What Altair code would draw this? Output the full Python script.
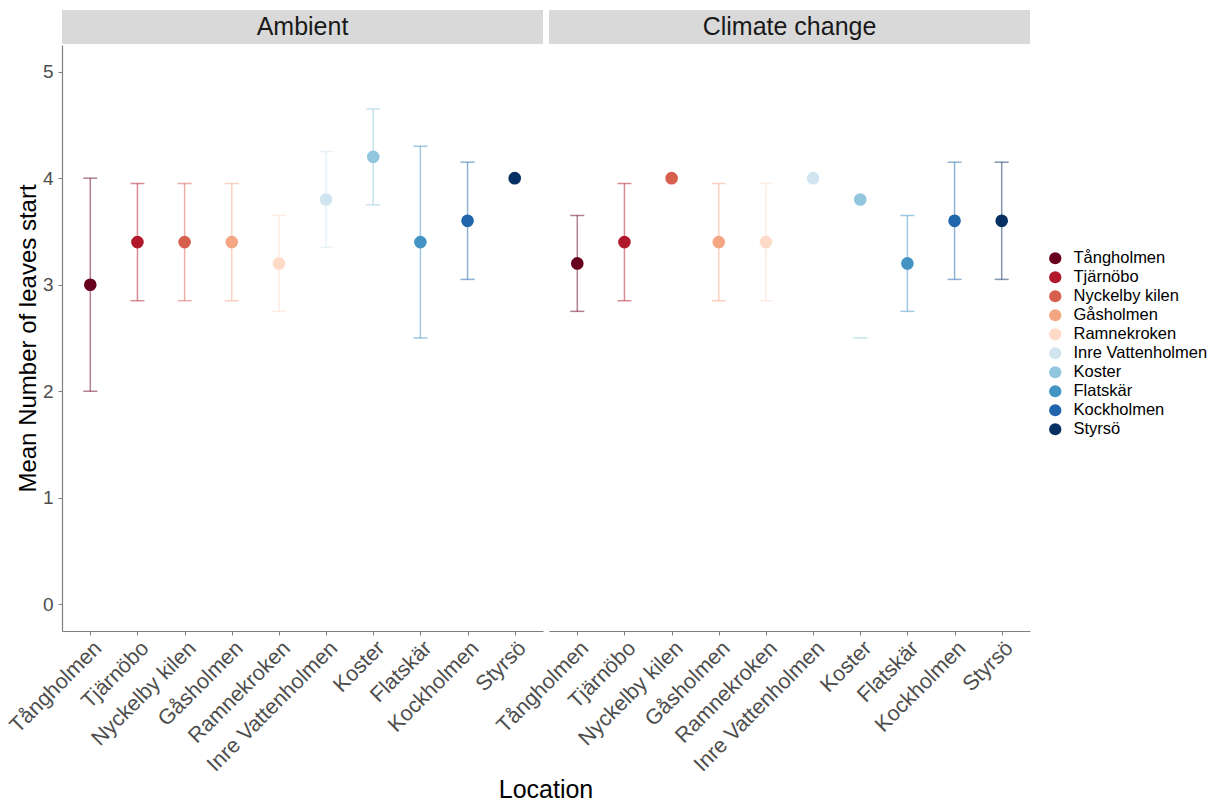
import altair as alt
import pandas as pd

FONT = "Liberation Sans"

locations = ["Tångholmen", "Tjärnöbo", "Nyckelby kilen", "Gåsholmen", "Ramnekroken",
             "Inre Vattenholmen", "Koster", "Flatskär", "Kockholmen", "Styrsö"]
palette = ["#67001F", "#B2182B", "#D6604D", "#F4A582", "#FDDBC7",
           "#D1E5F0", "#92C5DE", "#4393C3", "#2166AC", "#053061"]

# Ambient treatment: mean and error-bar limits per location
amb_mean = [3.0, 3.4, 3.4, 3.4, 3.2, 3.8, 4.2, 3.4, 3.6, 4.0]
amb_lower = [2.0, 2.85, 2.85, 2.85, 2.75, 3.35, 3.75, 2.5, 3.05, None]
amb_upper = [4.0, 3.95, 3.95, 3.95, 3.65, 4.25, 4.65, 4.3, 4.15, None]

# Climate change treatment
cc_mean = [3.2, 3.4, 4.0, 3.4, 3.4, 4.0, 3.8, 3.2, 3.6, 3.6]
cc_lower = [2.75, 2.85, None, 2.85, 2.85, None, 2.5, 2.75, 3.05, 3.05]
cc_upper = [3.65, 3.95, None, 3.95, 3.95, None, None, 3.65, 4.15, 4.15]

W, H = 481, 586
GAP = 6
STRIP_H = 34
AXIS_GREY = "#7F7F7F"


def frame(name, means, lowers, uppers):
    return pd.DataFrame({"Location": locations, "mean": means,
                         "lower": lowers, "upper": uppers, "Treatment": name})


y_scale = alt.Scale(domain=[-0.25, 5.25], nice=False, zero=False)
color = alt.Color("Location:N", sort=locations,
                  scale=alt.Scale(domain=locations, range=palette),
                  legend=alt.Legend(title=None, orient="none", legendX=985, legendY=205,
                                    symbolType="circle", symbolSize=150, symbolOpacity=1,
                                    labelFontSize=16.5, labelFont=FONT, labelColor="#000000",
                                    labelOffset=10, rowPadding=2, symbolStrokeWidth=0))
x_enc = alt.X("Location:N", sort=locations, title=None,
              scale=alt.Scale(type="point", padding=0.6),
              axis=alt.Axis(labelAngle=-45, labelAlign="right", labelBaseline="top",
                            labelFontSize=21.5, labelFont=FONT, labelColor="#4D4D4D",
                            labelPadding=2, tickSize=4, tickColor=AXIS_GREY,
                            domainColor=AXIS_GREY, domainWidth=1.2, grid=False,
                            labelOverlap=False))


def panel(df, show_y):
    if show_y:
        y_axis = alt.Axis(values=[0, 1, 2, 3, 4, 5], labelFontSize=19, labelFont=FONT,
                          labelColor="#4D4D4D", labelPadding=5, tickSize=4,
                          tickColor=AXIS_GREY, domainColor=AXIS_GREY, domainWidth=1.2,
                          grid=False, title="Mean Number of leaves start",
                          titleFontSize=24, titleFont=FONT, titleFontWeight="normal",
                          titleColor="#000000", titlePadding=2)
    else:
        y_axis = None
    base = alt.Chart(df).encode(x=x_enc)
    head = df.head(1)

    strip_bg = alt.Chart(head).mark_rect(color="#D9D9D9").encode(
        x=alt.value(0), x2=alt.value(W), y=alt.value(-STRIP_H - 1), y2=alt.value(-1))
    strip_txt = alt.Chart(head).mark_text(
        fontSize=25, font=FONT, color="#1A1A1A", baseline="middle", align="center"
    ).encode(x=alt.value(W / 2), y=alt.value(-STRIP_H / 2 - 1), text="Treatment:N")

    bars = base.transform_filter(
        "isValid(datum.lower) && isValid(datum.upper)"
    ).mark_rule(strokeWidth=1.5, opacity=0.5).encode(
        y=alt.Y("lower:Q", scale=y_scale, axis=y_axis), y2="upper:Q", color=color)
    cap_lo = base.transform_filter("isValid(datum.lower)").mark_tick(
        size=14, thickness=1.5, opacity=0.5).encode(
        y=alt.Y("lower:Q", scale=y_scale, axis=y_axis), color=color)
    cap_hi = base.transform_filter("isValid(datum.upper)").mark_tick(
        size=14, thickness=1.5, opacity=0.5).encode(
        y=alt.Y("upper:Q", scale=y_scale, axis=y_axis), color=color)
    pts = base.mark_circle(size=160, opacity=1).encode(
        y=alt.Y("mean:Q", scale=y_scale, axis=y_axis), color=color)

    layers = [strip_bg, strip_txt, bars, cap_lo, cap_hi, pts]
    if show_y:
        # shared x-axis title, centred under both panels
        layers.append(alt.Chart(head).mark_text(
            fontSize=25, font=FONT, color="#000000", baseline="middle", align="center"
        ).encode(x=alt.value(W + GAP / 2), y=alt.value(H + 159), text=alt.value("Location")))
    return alt.layer(*layers).properties(width=W, height=H)


left = panel(frame("Ambient", amb_mean, amb_lower, amb_upper), True)
right = panel(frame("Climate change", cc_mean, cc_lower, cc_upper), False)

chart = alt.hconcat(left, right, spacing=GAP, bounds="flush").resolve_scale(
    color="shared"
).properties(
    padding={"left": 5, "top": 10, "right": 5, "bottom": 5},
    background="white",
).configure_view(strokeWidth=0, stroke="transparent")

chart.save("out.html", embed_options={"renderer": "svg", "actions": False})
